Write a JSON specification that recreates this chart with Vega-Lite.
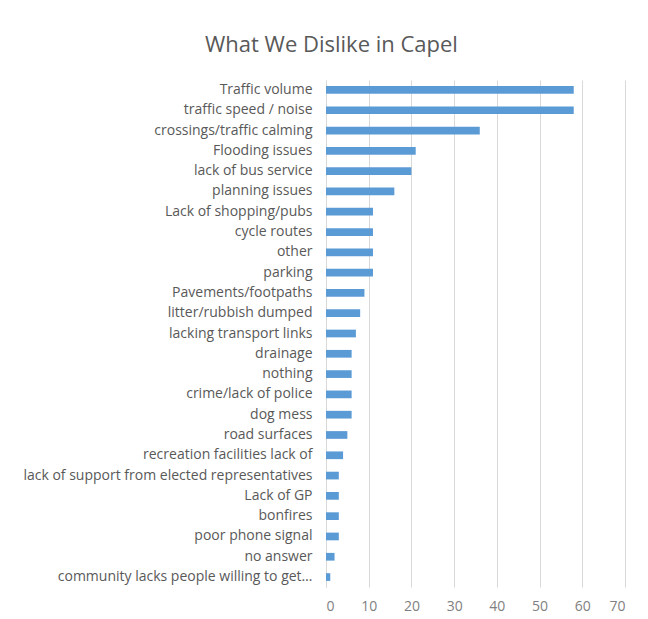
{
  "$schema": "https://vega.github.io/schema/vega-lite/v6.json",
  "width": 299,
  "height": 507,
  "autosize": "none",
  "padding": {"left": 326, "top": 80, "right": 23, "bottom": 32},
  "background": "white",
  "title": {
    "text": "What We Dislike in Capel",
    "anchor": "start",
    "frame": "group",
    "dx": -121,
    "offset": 23,
    "font": "Open Sans",
    "fontSize": 22,
    "fontWeight": "normal",
    "color": "#595959"
  },
  "data": {
    "values": [
      {"category": "Traffic volume", "count": 58},
      {"category": "traffic speed / noise", "count": 58},
      {"category": "crossings/traffic calming", "count": 36},
      {"category": "Flooding issues", "count": 21},
      {"category": "lack of bus service", "count": 20},
      {"category": "planning issues", "count": 16},
      {"category": "Lack of shopping/pubs", "count": 11},
      {"category": "cycle routes", "count": 11},
      {"category": "other ", "count": 11},
      {"category": "parking", "count": 11},
      {"category": "Pavements/footpaths", "count": 9},
      {"category": "litter/rubbish dumped", "count": 8},
      {"category": "lacking transport links", "count": 7},
      {"category": "drainage", "count": 6},
      {"category": "nothing", "count": 6},
      {"category": "crime/lack of police", "count": 6},
      {"category": "dog mess", "count": 6},
      {"category": "road surfaces", "count": 5},
      {"category": "recreation facilities lack of", "count": 4},
      {"category": "lack of support from elected representatives", "count": 3},
      {"category": "Lack of GP", "count": 3},
      {"category": "bonfires", "count": 3},
      {"category": "poor phone signal", "count": 3},
      {"category": "no answer", "count": 2},
      {"category": "community lacks people willing to get…", "count": 1}
    ]
  },
  "mark": {"type": "bar", "color": "#5B9BD5"},
  "encoding": {
    "y": {
      "field": "category",
      "type": "nominal",
      "sort": null,
      "scale": {"paddingInner": 0.62, "paddingOuter": 0.3},
      "axis": {
        "title": null,
        "ticks": false,
        "labelPadding": 14,
        "labelLimit": 0,
        "labelFont": "Open Sans",
        "labelFontSize": 14,
        "labelColor": "#595959",
        "domainColor": "#d9d9d9",
        "domainWidth": 1
      }
    },
    "x": {
      "field": "count",
      "type": "quantitative",
      "scale": {"domain": [0, 70], "nice": false},
      "axis": {
        "title": null,
        "values": [0, 10, 20, 30, 40, 50, 60, 70],
        "ticks": false,
        "domain": false,
        "grid": true,
        "gridColor": "#d9d9d9",
        "gridWidth": 1,
        "labelPadding": 12,
        "labelFont": "Open Sans",
        "labelFontSize": 14,
        "labelColor": "#7f7f7f"
      }
    }
  },
  "config": {"view": {"stroke": null}}
}
